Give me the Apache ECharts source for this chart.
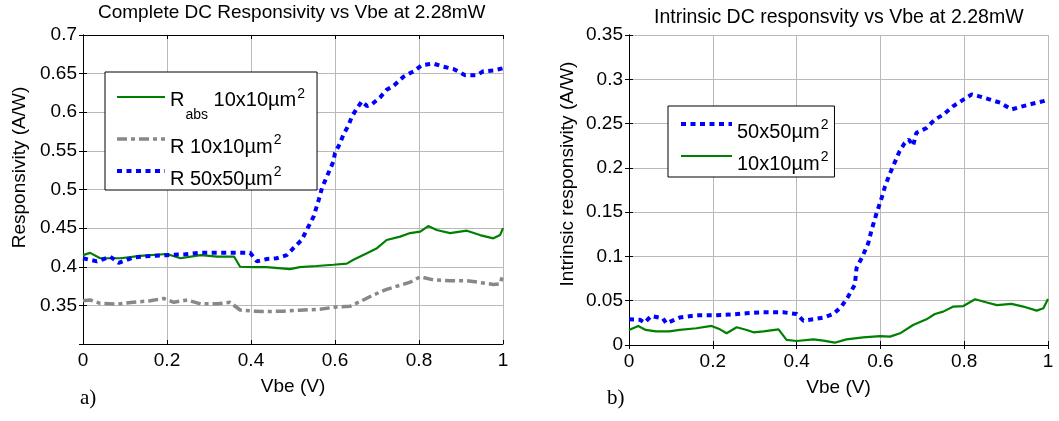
<!DOCTYPE html>
<html>
<head>
<meta charset="utf-8">
<script src="https://cdn.jsdelivr.net/npm/echarts@6/dist/echarts.min.js"></script>
<style>html,body{margin:0;padding:0;background:#fff}#c{width:1059px;height:421px}</style>
</head>
<body>
<div id="c"></div>
<script>
// ---- Data ----
const leftTitle = 'Complete DC Responsivity vs Vbe at 2.28mW';
const rightTitle = 'Intrinsic DC responsvity vs Vbe at 2.28mW';
const xTicks = [0, 0.2, 0.4, 0.6, 0.8, 1];

// a) R_abs 10x10um^2 (green)
const absX = [0, 0.017, 0.041, 0.089, 0.136, 0.2, 0.232, 0.28, 0.32, 0.36, 0.374, 0.406, 0.437, 0.493, 0.516, 0.556, 0.596, 0.628, 0.644, 0.676, 0.7, 0.723, 0.755, 0.779, 0.803, 0.822, 0.842, 0.874, 0.914, 0.945, 0.977, 0.993, 1.0];
const absY = [0.415, 0.418, 0.411, 0.411, 0.414, 0.4165, 0.411, 0.415, 0.413, 0.413, 0.400, 0.3995, 0.3995, 0.397, 0.3995, 0.401, 0.4026, 0.404, 0.409, 0.4174, 0.424, 0.4346, 0.439, 0.4436, 0.4454, 0.4527, 0.4476, 0.4436, 0.4467, 0.441, 0.4368, 0.441, 0.45];

// a) R 10x10um^2 (grey dash-dot)
const r10X = [0, 0.017, 0.041, 0.08, 0.12, 0.16, 0.192, 0.216, 0.248, 0.28, 0.32, 0.35, 0.374, 0.406, 0.437, 0.477, 0.516, 0.564, 0.604, 0.636, 0.66, 0.691, 0.723, 0.755, 0.779, 0.803, 0.834, 0.874, 0.914, 0.953, 0.977, 0.993, 1.0];
const r10Y = [0.356, 0.357, 0.3527, 0.3516, 0.354, 0.356, 0.359, 0.354, 0.357, 0.352, 0.352, 0.354, 0.344, 0.3425, 0.342, 0.3425, 0.3437, 0.345, 0.348, 0.349, 0.355, 0.3634, 0.3708, 0.376, 0.380, 0.387, 0.383, 0.382, 0.382, 0.379, 0.377, 0.378, 0.39];

// a) R 50x50um^2 (blue dotted)
const r50X = [0, 0.033, 0.065, 0.085, 0.12, 0.16, 0.2, 0.24, 0.28, 0.32, 0.36, 0.398, 0.414, 0.438, 0.461, 0.485, 0.501, 0.521, 0.533, 0.549, 0.561, 0.569, 0.584, 0.596, 0.6, 0.612, 0.62, 0.632, 0.64, 0.652, 0.664, 0.676, 0.687, 0.707, 0.723, 0.739, 0.763, 0.787, 0.807, 0.834, 0.858, 0.882, 0.91, 0.938, 0.953, 0.977, 1.0];
const r50Y = [0.411, 0.407, 0.413, 0.405, 0.412, 0.414, 0.415, 0.416, 0.418, 0.418, 0.418, 0.418, 0.407, 0.410, 0.411, 0.415, 0.424, 0.435, 0.448, 0.465, 0.486, 0.502, 0.521, 0.536, 0.547, 0.560, 0.571, 0.583, 0.594, 0.605, 0.614, 0.608, 0.610, 0.619, 0.629, 0.634, 0.646, 0.653, 0.661, 0.663, 0.659, 0.656, 0.648, 0.648, 0.653, 0.654, 0.657];

// b) intrinsic 50x50um^2 (blue dotted)
const in50X = [0, 0.026, 0.037, 0.053, 0.081, 0.089, 0.121, 0.161, 0.2, 0.24, 0.28, 0.32, 0.368, 0.4, 0.416, 0.44, 0.464, 0.488, 0.507, 0.523, 0.539, 0.543, 0.559, 0.571, 0.579, 0.591, 0.603, 0.611, 0.623, 0.635, 0.646, 0.658, 0.668, 0.678, 0.686, 0.71, 0.73, 0.75, 0.774, 0.798, 0.818, 0.834, 0.862, 0.886, 0.913, 0.941, 0.965, 0.989, 1.0];
const in50Y = [0.029, 0.0285, 0.0252, 0.0328, 0.030, 0.0245, 0.031, 0.0335, 0.0335, 0.0343, 0.0358, 0.0369, 0.0369, 0.035, 0.0275, 0.029, 0.031, 0.035, 0.0434, 0.0547, 0.068, 0.0868, 0.1018, 0.115, 0.130, 0.149, 0.166, 0.179, 0.194, 0.207, 0.219, 0.228, 0.232, 0.225, 0.2396, 0.245, 0.2546, 0.260, 0.2697, 0.277, 0.283, 0.281, 0.277, 0.2735, 0.266, 0.2697, 0.2727, 0.2753, 0.277];

// b) intrinsic 10x10um^2 (green)
const in10X = [0, 0.022, 0.04, 0.064, 0.096, 0.121, 0.161, 0.197, 0.217, 0.233, 0.257, 0.281, 0.297, 0.321, 0.357, 0.376, 0.4, 0.44, 0.464, 0.491, 0.519, 0.559, 0.599, 0.623, 0.647, 0.678, 0.71, 0.73, 0.75, 0.774, 0.798, 0.826, 0.854, 0.878, 0.913, 0.941, 0.973, 0.989, 1.0];
const in10Y = [0.017, 0.0215, 0.017, 0.0153, 0.0153, 0.017, 0.0189, 0.0215, 0.0177, 0.0132, 0.020, 0.017, 0.0143, 0.0153, 0.0177, 0.0057, 0.0045, 0.0064, 0.005, 0.0026, 0.0064, 0.0087, 0.010, 0.0095, 0.0132, 0.0226, 0.029, 0.035, 0.0377, 0.0434, 0.044, 0.0517, 0.048, 0.045, 0.0464, 0.0434, 0.0388, 0.0415, 0.052];

const zip = (xs, ys) => xs.map((x, i) => [x, ys[i]]);

const FONT = 'Liberation Sans';
const GREEN = '#008000', GREY = '#888888', BLUE = '#0000ff';
const gridColor = '#b9b9b9';
const greenStyle = {color: GREEN, width: 2.2, type: 'solid'};
const greyStyle = {color: GREY, width: 3.5, type: [10, 4, 4, 4]};
const blueStyle = {color: BLUE, width: 4, type: [5, 4.5]};

const legendNames = {
  'Rabs 10x10': '{a|R}{sub|abs}{a| 10x10µm}{supa|2}',
  'R 10x10': '{b|R 10x10µm}{sup|2}',
  'R 50x50': '{b|R 50x50µm}{sup|2}',
  '50x50': '{b|50x50µm}{sup|2}',
  '10x10': '{b|10x10µm}{sup|2}'
};
const rich = {
  a: {fontSize: 20, fontFamily: FONT, color: '#000', lineHeight: 20, verticalAlign: 'top', padding: [3, 0, 0, 0]},
  sub: {fontSize: 14, fontFamily: FONT, color: '#000', lineHeight: 14, verticalAlign: 'top', padding: [21, 0, 3, 1]},
  supa: {fontSize: 14, fontFamily: FONT, color: '#000', lineHeight: 14, verticalAlign: 'top', padding: [0, 0, 0, 1]},
  b: {fontSize: 20, fontFamily: FONT, color: '#000', lineHeight: 20, verticalAlign: 'top', padding: [8, 0, 0, 0]},
  sup: {fontSize: 14, fontFamily: FONT, color: '#000', lineHeight: 14, verticalAlign: 'top', padding: [4, 0, 0, 1]}
};

function xAxisMain(g) {
  return {type: 'value', gridIndex: g, min: 0, max: 1, interval: 0.2,
    name: 'Vbe (V)', nameLocation: 'middle', nameGap: 33,
    nameTextStyle: {fontFamily: FONT, fontSize: 19, color: '#000'},
    axisLine: {lineStyle: {color: '#000', width: 1}},
    axisTick: {inside: true, length: 4, lineStyle: {color: '#000'}},
    axisLabel: {fontFamily: FONT, fontSize: 19, color: '#000', margin: 7,
      formatter: v => String(parseFloat(v.toFixed(2)))},
    splitLine: {show: true, lineStyle: {color: gridColor, width: 1}}};
}
function xAxisTop(g) {
  return {type: 'value', gridIndex: g, min: 0, max: 1, interval: 0.2, position: 'top',
    axisLine: {lineStyle: {color: '#000'}}, axisTick: {inside: true, length: 4, lineStyle: {color: '#000'}},
    axisLabel: {show: false}, splitLine: {show: false}};
}
function yAxisRight(g, min, max) {
  return {type: 'value', gridIndex: g, min: min, max: max, interval: 0.05, position: 'right',
    axisLine: {show: true, lineStyle: {color: '#000'}}, axisTick: {show: true, inside: true, length: 4, lineStyle: {color: '#000'}},
    axisLabel: {show: false}, splitLine: {show: false}};
}
function yAxisMain(g, min, max, name, gap, shift, showMin) {
  return {type: 'value', gridIndex: g, min: min, max: max, interval: 0.05,
    name: name, nameLocation: 'middle', nameGap: gap,
    nameTextStyle: {fontFamily: FONT, fontSize: 19, color: '#000', padding: [0, 0, 0, shift]},
    axisLine: {show: true, lineStyle: {color: '#000'}},
    axisTick: {show: true, inside: true, length: 4, lineStyle: {color: '#000'}},
    axisLabel: {fontFamily: FONT, fontSize: 19, color: '#000', margin: 6, showMinLabel: showMin,
      formatter: v => String(parseFloat(v.toFixed(2)))},
    splitLine: {show: true, lineStyle: {color: gridColor, width: 1}}};
}
const legendBase = {orient: 'vertical', itemHeight: 2, borderColor: '#000', borderWidth: 1,
  backgroundColor: '#fff', borderRadius: 0, itemStyle: {opacity: 0},
  formatter: n => legendNames[n], textStyle: {rich: rich}};

const chart = echarts.init(document.getElementById('c'), null, {renderer: 'canvas'});
chart.setOption({
  backgroundColor: '#fff',
  animation: false,
  title: [
    {text: leftTitle, left: 98, top: 3, padding: 0, textStyle: {fontFamily: FONT, fontSize: 19, fontWeight: 'normal', color: '#000'}},
    {text: rightTitle, left: 654, top: 8, padding: 0, textStyle: {fontFamily: FONT, fontSize: 19.5, fontWeight: 'normal', color: '#000'}}
  ],
  grid: [
    {left: 83, top: 35, width: 420, height: 309},
    {left: 629, top: 35, width: 419, height: 310}
  ],
  xAxis: [xAxisMain(0), xAxisMain(1), xAxisTop(0), xAxisTop(1)],
  yAxis: [
    yAxisMain(0, 0.3, 0.7, 'Responsivity (A/W)', 54, 44, false),
    yAxisMain(1, 0, 0.35, 'Intrinsic responsivity (A/W)', 52, 32, true),
    yAxisRight(0, 0.3, 0.7), yAxisRight(1, 0, 0.35)
  ],
  legend: [
    Object.assign({}, legendBase, {left: 105, top: 72, itemWidth: 48, itemGap: 4,
      padding: [15, 12, 1, 10],
      data: [{name: 'Rabs 10x10', lineStyle: greenStyle}, {name: 'R 10x10', lineStyle: greyStyle}, {name: 'R 50x50', lineStyle: blueStyle}]}),
    Object.assign({}, legendBase, {left: 668, top: 106, itemWidth: 51, itemGap: 4,
      padding: [8, 6, 3, 11],
      data: [{name: '50x50', lineStyle: blueStyle}, {name: '10x10', lineStyle: greenStyle}]})
  ],
  series: [
    {name: 'Rabs 10x10', type: 'line', xAxisIndex: 0, yAxisIndex: 0, symbol: 'none',
     data: zip(absX, absY), lineStyle: greenStyle, itemStyle: {color: GREEN}},
    {name: 'R 10x10', type: 'line', xAxisIndex: 0, yAxisIndex: 0, symbol: 'none',
     data: zip(r10X, r10Y), lineStyle: greyStyle, itemStyle: {color: GREY}},
    {name: 'R 50x50', type: 'line', xAxisIndex: 0, yAxisIndex: 0, symbol: 'none',
     data: zip(r50X, r50Y), lineStyle: blueStyle, itemStyle: {color: BLUE}},
    {name: '50x50', type: 'line', xAxisIndex: 1, yAxisIndex: 1, symbol: 'none',
     data: zip(in50X, in50Y), lineStyle: blueStyle, itemStyle: {color: BLUE}},
    {name: '10x10', type: 'line', xAxisIndex: 1, yAxisIndex: 1, symbol: 'none',
     data: zip(in10X, in10Y), lineStyle: greenStyle, itemStyle: {color: GREEN}}
  ],
  graphic: [
    {type: 'text', left: 80, top: 388, style: {text: 'a)', font: '21px "Liberation Serif"', fill: '#000'}},
    {type: 'text', left: 607, top: 388, style: {text: 'b)', font: '21px "Liberation Serif"', fill: '#000'}}
  ]
});
</script>
</body>
</html>
